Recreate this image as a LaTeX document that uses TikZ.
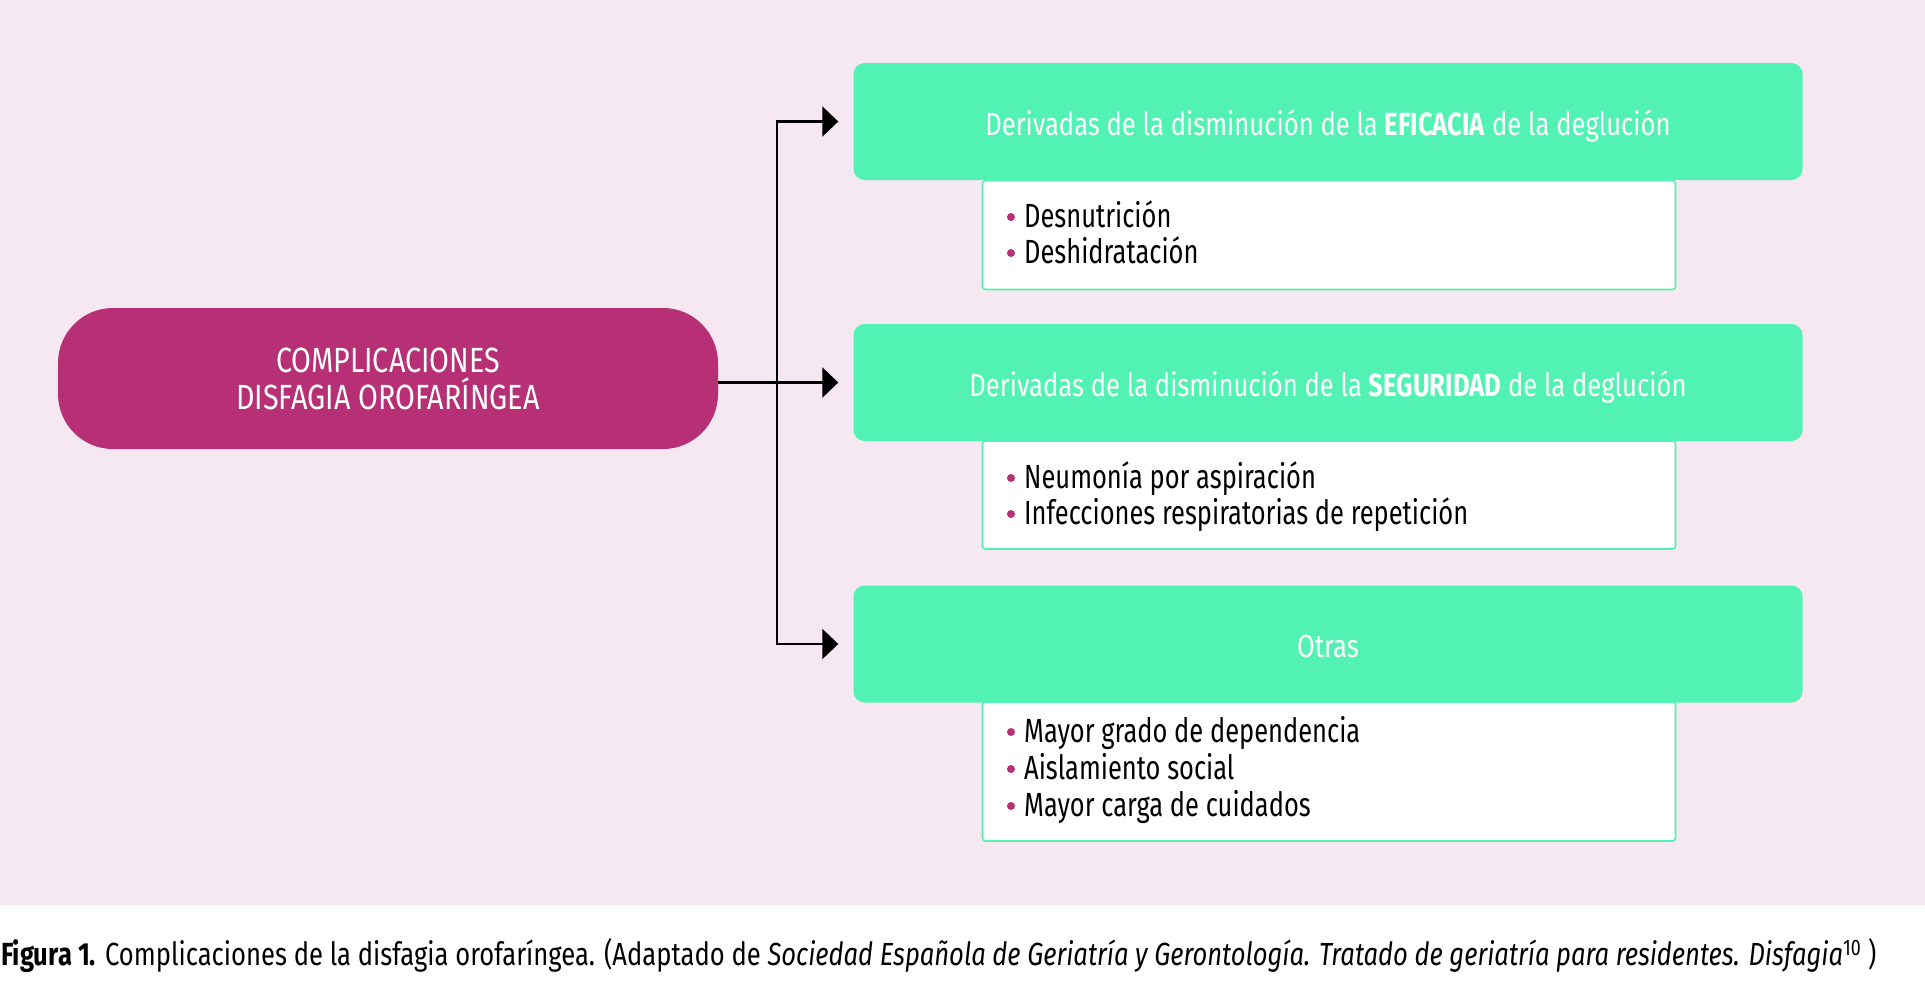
\documentclass[tikz,border=0pt]{standalone}
\usepackage{fontspec}
\setmainfont{Fira Sans}[FakeStretch=0.8]
\newfontfamily\listfont{Fira Sans}[FakeStretch=0.76]
\newfontfamily\bigfont{Fira Sans}[FakeStretch=0.82]
\usetikzlibrary{arrows.meta}
\definecolor{bgpink}{HTML}{F6E8F0}
\definecolor{mag}{HTML}{B73076}
\definecolor{grn}{HTML}{52F2B4}
\begin{document}
\begin{tikzpicture}[x=1pt,y=-1pt,
  mainbox/.style={fill=mag, rounded corners=55pt, minimum width=660pt, minimum height=141pt, inner sep=0pt,
    text=white, align=center, font=\bigfont\fontsize{35}{37}\selectfont},
  headbox/.style={fill=grn, rounded corners=11pt, minimum width=949pt, minimum height=117pt, inner sep=0pt,
    text=white, text height=27pt, text depth=0pt, font=\fontsize{32}{36}\selectfont},
  listbox/.style={fill=white, draw=grn, line width=1.6pt, rounded corners=3pt, minimum width=693pt, inner sep=0pt},
  item/.style={anchor=base west, inner sep=0pt, font=\listfont\fontsize{33.5}{37}\selectfont},
  dot/.style={fill=mag},
  conn/.style={line width=2.3pt, draw=black},
  arr/.style={conn, -{Triangle[length=16pt, width=30pt]}, shorten >=15pt}
]
\useasboundingbox (0,0) rectangle (1925,989);
\fill[bgpink] (0,0) rectangle (1925,905);

% list boxes (drawn first, behind headers)
\node[listbox, minimum height=109pt] (l1) at (1329,235) {};
\node[listbox, minimum height=108pt] (l2) at (1329,495) {};
\node[listbox, minimum height=139pt] (l3) at (1329,771.5) {};

% header boxes
\node[headbox] (g1) at (1328,121.5) {Derivadas de la disminución de la \textbf{EFICACIA} de la deglución};
\node[headbox] (g2) at (1328,382.5) {Derivadas de la disminución de la \textbf{SEGURIDAD} de la deglución};
\node[headbox] (g3) at (1328,644) {Otras};

% main box
\node[mainbox] (main) at (388,378.5) {COMPLICACIONES\\DISFAGIA OROFARÍNGEA};

% items
\node[item] (a1) at (1024,227) {Desnutrición};
\node[item] (a2) at (1024,263) {Deshidratación};
\node[item] (b1) at (1024,488) {Neumonía por aspiración};
\node[item] (b2) at (1024,524) {Infecciones respiratorias de repetición};
\node[item] (c1) at (1024,742) {Mayor grado de dependencia};
\node[item] (c2) at (1024,779) {Aislamiento social};
\node[item] (c3) at (1024,816) {Mayor carga de cuidados};
\foreach \n in {a1,a2,b1,b2,c1,c2,c3}
  \fill[dot] ([xshift=-13pt,yshift=10pt]\n.base west) circle (4pt);

% connectors
\coordinate (sp) at (777,0);
\draw[conn] (g2.west -| main.east) -- (g2.west -| sp);
\draw[arr] (g1.west -| sp) -- (g1.west);
\draw[arr] (g2.west -| sp) -- (g2.west);
\draw[arr] (g3.west -| sp) -- (g3.west);
\draw[conn] ([yshift=1.15pt]g1.west -| sp) -- ([yshift=-1.15pt]g3.west -| sp);

% caption
\node[anchor=base west, inner sep=0pt, font=\fontsize{32}{34}\selectfont] (cap) at (1,965)
  {\textbf{Figura 1.} Complicaciones de la disfagia orofaríngea. (Adaptado de \textit{Sociedad Española de Geriatría y Gerontología. Tratado de geriatría para residentes. Disfagia}\textsuperscript{10} )};
\end{tikzpicture}
\end{document}
